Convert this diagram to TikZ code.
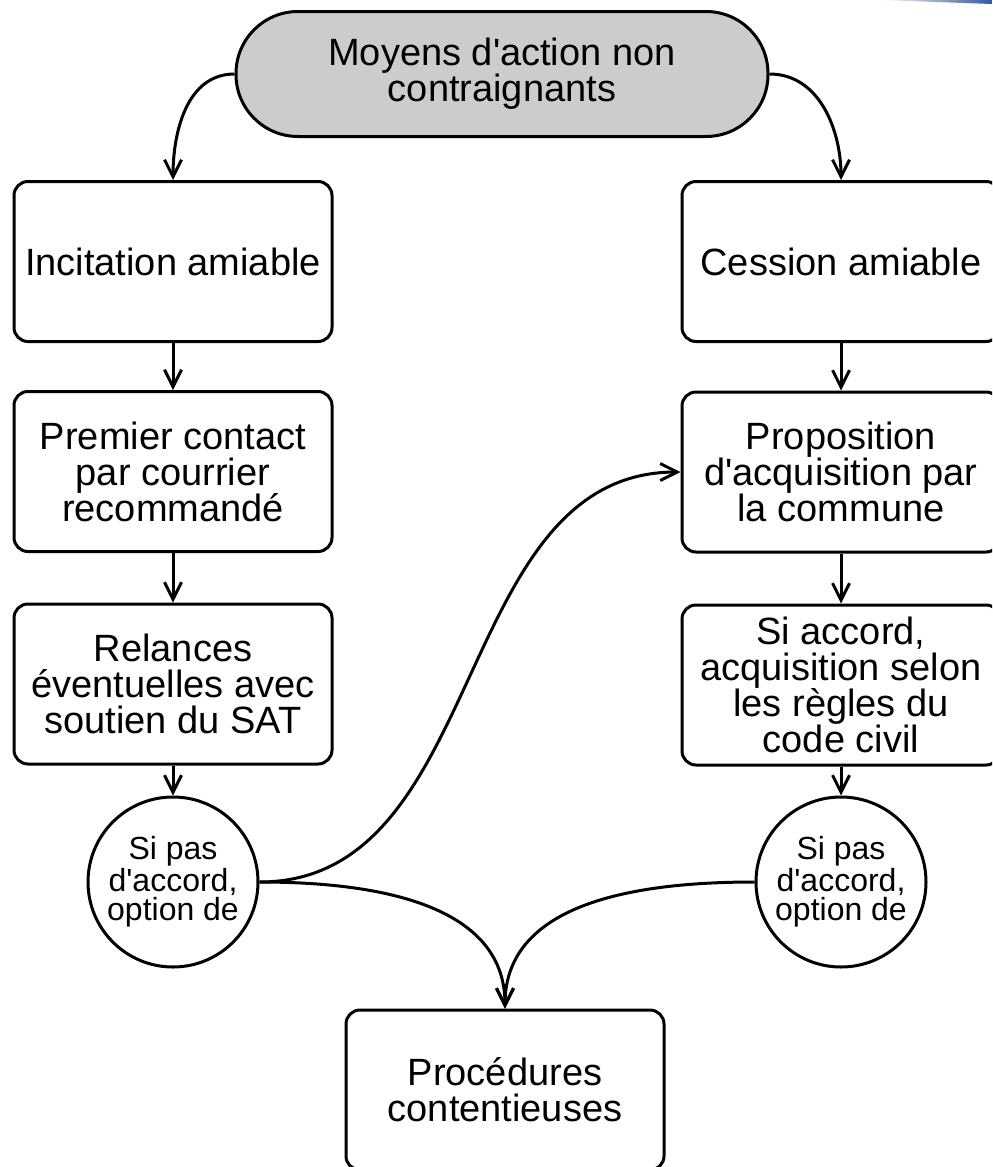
\documentclass[tikz,border=0pt]{standalone}
\usepackage{fontspec}
\setmainfont{Liberation Sans}[Ligatures=TeXOff]
\usetikzlibrary{arrows.meta}

\begin{document}
\begin{tikzpicture}[x=0.5pt,y=-0.5pt,
        haut/.style={draw,line width=1.5pt,fill=gray!40,rounded corners=31pt,minimum width=266pt,minimum height=62.5pt,align=center,font=\fontsize{19}{18}\selectfont},
        etape/.style={draw,line width=1.5pt,rounded corners=7pt,minimum width=159pt,minimum height=80pt,inner sep=2pt,align=center,font=\fontsize{19}{18}\selectfont},
        choix/.style={draw,line width=1.5pt,circle,minimum size=85pt,inner sep=0pt,align=center,font=\fontsize{16}{14.5}\selectfont},
        fleche/.style={line width=1.5pt,-{Straight Barb[length=8.5pt,width=8.5pt]}}]
        \useasboundingbox (0,0) rectangle (992,1167);
        \clip (0,0) rectangle (992,1167);

        \shade[left color=white,right color={rgb,255:red,47;green,90;blue,160}] (878,0) -- (992,0) -- (992,4) -- cycle;

        \node[haut] (moyens) at (502,74) {Moyens d'action non\\contraignants};

        % colonne gauche
        \node[etape] (incit) at (173,261.5) {Incitation amiable};
        \node[etape] (contact) at (173,471.5) {Premier contact\\par courrier\\recommandé};
        \node[etape] (relances) at (173,684) {Relances\\éventuelles avec\\soutien du SAT};
        \node[choix] (sipasG) at (173,882) {Si pas\\d'accord,\\option de};

        % colonne droite
        \node[etape] (cession) at (841,261.5) {Cession amiable};
        \node[etape] (propos) at (841,472) {Proposition\\d'acquisition par\\la commune};
        \node[etape] (accord) at (841,685) {Si accord,\\acquisition selon\\les règles du\\code civil};
        \node[choix] (sipasD) at (841,882) {Si pas\\d'accord,\\option de};

        \node[etape] (proc) at (505,1090) {Procédures\\contentieuses};

        \draw[fleche] (moyens.west) to[out=180,in=90] (incit.north);
        \draw[fleche] (moyens.east) to[out=0,in=90] (cession.north);
        \foreach \a/\b in {incit/contact,contact/relances,relances/sipasG,cession/propos,propos/accord,accord/sipasD}
            \draw[fleche] (\a) -- (\b);
        \draw[fleche] (sipasG.east) to[out=0,in=180] (propos.west);
        \draw[fleche] (sipasG.east) to[out=0,in=90] (proc.north);
        \draw[fleche] (sipasD.west) to[out=180,in=90] (proc.north);
    \end{tikzpicture}
\end{document}
